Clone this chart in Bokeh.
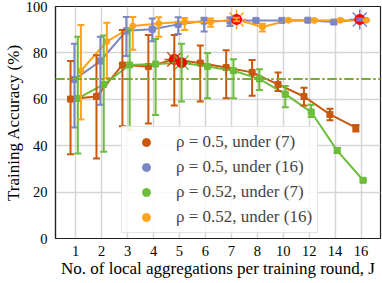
from bokeh.plotting import figure
from bokeh.models import (ColumnDataSource, Whisker, TeeHead, Span, Legend, LegendItem,
                          FixedTicker, Range1d)
from bokeh.embed import file_html
from bokeh.resources import INLINE

# ---- data ----
J_labels = ["1", "2", "3", "4", "5", "6", "7", "8", "10", "12", "14", "16"]

names = ["ρ = 0.5, under (7)", "ρ = 0.5, under (16)", "ρ = 0.52, under (7)", "ρ = 0.52, under (16)"]

brown_y = [60.1, 61.2, 74.8, 74.1, 77.2, 75.6, 73.7, 71.6, 66.4, 61.2, 53.5, 47.8]
brown_up = [76.5, 79.0, 89.9, 87.7, 87.7, 83.2, 81.1, 76.9, 71.6, 65.0, 55.9, 48.9]
brown_lo = [36.3, 34.5, 48.4, 49.6, 57.3, 59.0, 60.5, 61.5, 63.6, 57.3, 51.0, 46.1]

blue_y = [68.5, 76.5, 89.5, 90.2, 92.3, 93.7, 93.7, 94.0, 94.0, 94.1, 93.3, 94.4]
blue_up = [83.9, 87.0, 95.5, 94.8, 95.4, 95.1, 95.4, 94.6, 94.5, 94.6, 94.0, 94.8]
blue_lo = [47.8, 57.6, 78.7, 85.0, 88.1, 89.2, 91.6, 93.4, 93.5, 93.6, 92.6, 94.0]

green_y = [60.4, 66.4, 74.8, 75.2, 75.8, 74.1, 72.3, 68.8, 62.2, 54.5, 37.9, 25.1]
green_up = [87.0, 87.5, 90.2, 86.0, 83.9, 80.0, 77.3, 73.0, 65.7, 57.6, 39.0, 25.6]
green_lo = [36.6, 37.4, 46.8, 53.2, 59.0, 60.5, 60.5, 64.0, 56.6, 52.4, 36.8, 24.6]

orange_y = [72.3, 84.9, 91.6, 92.7, 93.4, 93.3, 94.4, 91.2, 94.1, 94.0, 94.1, 94.1]
orange_up = [92.0, 93.0, 95.5, 95.4, 95.0, 94.8, 95.2, 92.6, 94.5, 94.4, 94.5, 94.5]
orange_lo = [51.3, 69.2, 81.4, 87.0, 89.9, 91.3, 93.6, 89.2, 93.7, 93.6, 93.7, 93.7]

best_idx = [4, 11, 4, 6]        # index of highlighted (red) point per series
threshold = 68.8               # dash-dot reference accuracy

# ---- style ----
colors = ["#c8580f", "#7a86c6", "#6bbd3a", "#ffa31a"]
markers = ["square", "square", "square", "circle"]
offsets = [-0.2, -0.05, 0.08, 0.2]
FONT = "Liberation Serif"

p = figure(width=382, height=280, output_backend="svg", toolbar_location=None,
           x_range=Range1d(0.22, 12.75), y_range=Range1d(0, 100),
           min_border_left=0, min_border_right=2, min_border_top=6, min_border_bottom=0)

p.outline_line_color = "#222222"
p.outline_line_width = 1.2
p.background_fill_color = "white"
p.border_fill_color = "white"

for ax in (p.xaxis[0], p.yaxis[0]):
    ax.major_tick_line_color = None
    ax.minor_tick_line_color = None
    ax.axis_line_color = "#222222"
    ax.axis_line_width = 1.2
    ax.major_label_text_font = FONT
    ax.major_label_text_font_size = "14.5px"
    ax.major_label_text_color = "black"
    ax.axis_label_text_font = FONT
    ax.axis_label_text_font_size = "17px"
    ax.axis_label_text_font_style = "normal"
    ax.axis_label_text_color = "black"

p.xaxis.ticker = FixedTicker(ticks=list(range(1, len(J_labels) + 1)))
p.xaxis.major_label_overrides = {i + 1: lab for i, lab in enumerate(J_labels)}
p.xaxis.axis_label = "No. of local aggregations per training round, J"
p.xaxis.major_label_standoff = 1
p.xaxis.axis_label_standoff = 0
p.yaxis.ticker = FixedTicker(ticks=[0, 20, 40, 60, 80, 100])
p.yaxis.axis_label = "Training Accuracy (%)"
p.yaxis.major_label_standoff = 2
p.yaxis.axis_label_standoff = 0

p.grid.grid_line_color = "#d6d6d6"
p.grid.grid_line_width = 1.5

# threshold lines (brown under green)
p.add_layout(Span(location=threshold, dimension="width", line_color=colors[0],
                  line_width=2, line_dash="9 3 2 3"))
p.add_layout(Span(location=threshold, dimension="width", line_color=colors[2],
                  line_width=2, line_dash="9 3 2 3", line_alpha=0.85))

series = [(brown_y, brown_up, brown_lo), (blue_y, blue_up, blue_lo),
          (green_y, green_up, green_lo), (orange_y, orange_up, orange_lo)]

legend_items = []
for k, (ys, ups, los) in enumerate(series):
    xs = [i + 1 + offsets[k] for i in range(len(ys))]
    src = ColumnDataSource(dict(x=xs, y=ys, up=ups, lo=los))
    c = colors[k]
    w = Whisker(source=src, base="x", upper="up", lower="lo", line_color=c, line_width=2,
                upper_head=TeeHead(size=7, line_color=c, line_width=2),
                lower_head=TeeHead(size=7, line_color=c, line_width=2), level="glyph")
    p.add_layout(w)
    p.line("x", "y", source=src, line_color=c, line_width=2)
    p.scatter("x", "y", source=src, marker=markers[k], size=6, fill_color=c, line_color=c)
    leg_r = p.scatter(x=[float("nan")], y=[float("nan")], marker="circle", size=9,
                      fill_color=c, line_color=c)
    legend_items.append(LegendItem(label=names[k], renderers=[leg_r]))

# highlighted best points
for k, (ys, ups, los) in enumerate(series):
    b = best_idx[k]
    bx = [b + 1 + offsets[k]]
    by = [ys[b]]
    p.scatter(bx, by, marker="asterisk", size=20, line_color=colors[k], line_width=1.5)
    p.scatter(bx, by, marker="circle", size=10, fill_color="red", line_color="red")

legend = Legend(items=legend_items, location=(66, 5), orientation="vertical",
                label_text_font=FONT, label_text_font_size="17px",
                glyph_width=38, glyph_height=20, label_height=20, label_standoff=11,
                spacing=5, padding=5, margin=0,
                border_line_color="#cccccc", border_line_width=1,
                background_fill_color="white", background_fill_alpha=0.85)
p.add_layout(legend, "center")

open("out.html", "w").write(file_html(p, INLINE))
